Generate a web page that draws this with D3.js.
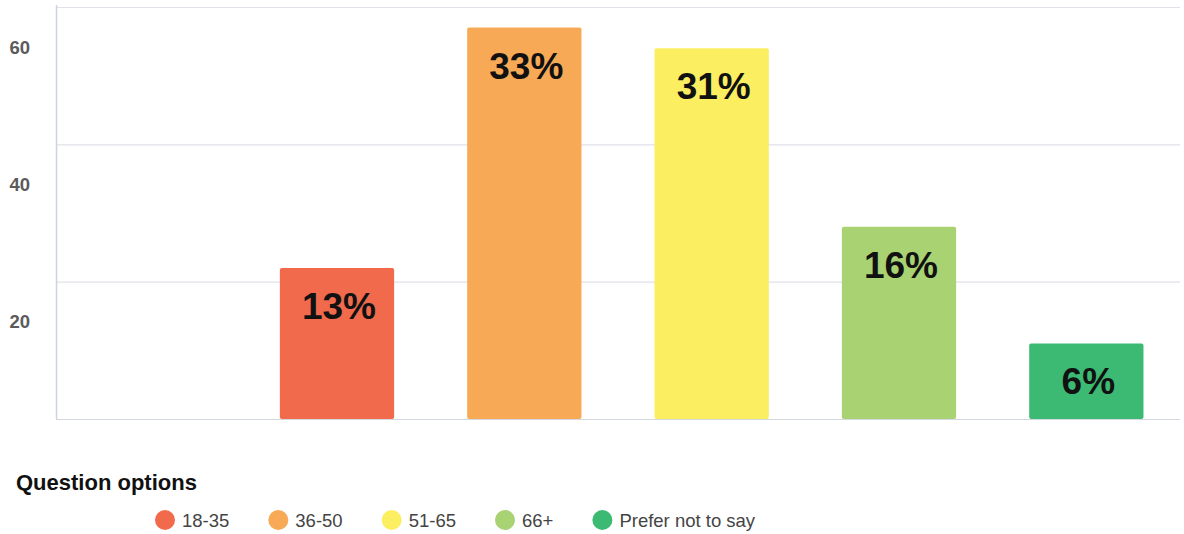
<!DOCTYPE html>
<html>
<head>
<meta charset="utf-8">
<script src="https://cdn.jsdelivr.net/npm/d3@7"></script>
<style>
  html, body { margin: 0; padding: 0; background: #ffffff; }
  svg { display: block; font-family: "Liberation Sans", Arial, Helvetica, sans-serif; }
</style>
</head>
<body>
<svg id="chart" width="1184" height="534"></svg>
<script>
// Age groups (the first slot has no responses)
const categories = ["Under 18", "18-35", "36-50", "51-65", "66+", "Prefer not to say"];
// Number of respondents per age group
const counts = [0, 22, 57, 54, 28, 11];
// Bar fill per age group
const colors = ["#cccccc", "#f06a4b", "#f7a955", "#fbee61", "#a9d272", "#3cba74"];
// Entries shown in the legend
const legendItems = ["18-35", "36-50", "51-65", "66+", "Prefer not to say"];
// Y axis
const yTicks = [20, 40, 60];
const yGrid = [0, 20, 40, 60];
const legendTitle = "Question options";

const svg = d3.select("#chart");
const plot = { left: 56, right: 1180, top: 7, bottom: 419 };

const x = d3.scaleBand()
  .domain(categories)
  .range([plot.left, plot.right])
  .paddingInner(0.39)
  .paddingOuter(0.195);

const y = d3.scaleLinear()
  .domain([0, 60])
  .range([plot.bottom, plot.top]);

const color = d3.scaleOrdinal().domain(categories).range(colors);
const total = d3.sum(counts);
const data = categories.map((c, i) => ({ cat: c, value: counts[i] }));

// Horizontal grid lines
svg.append("g")
  .selectAll("line")
  .data(yGrid)
  .join("line")
  .attr("x1", plot.left)
  .attr("x2", plot.right)
  .attr("y1", d => y(d) + 0.5)
  .attr("y2", d => y(d) + 0.5)
  .attr("stroke", d => d === 0 ? "#d3d7de" : "#dfe2e8")
  .attr("stroke-width", 1.2);

// Left axis with labels sitting beneath their grid line
const yAxis = d3.axisLeft(y).tickValues(yTicks).tickSize(0).tickPadding(26);
const gy = svg.append("g")
  .attr("transform", `translate(${plot.left},0)`)
  .call(yAxis);
gy.select(".domain")
  .attr("stroke", "#cdd3dd")
  .attr("stroke-width", 1.5)
  .attr("d", `M0.5,${plot.top - 2}V${plot.bottom}`);
gy.selectAll("text")
  .attr("fill", "#5b5b5b")
  .attr("font-size", 18.5)
  .attr("font-weight", "bold")
  .attr("dy", 46)
  .attr("dominant-baseline", "auto")
  .attr("font-family", "'Liberation Sans', Arial, sans-serif");

// Bars
svg.append("g")
  .selectAll("rect")
  .data(data.filter(d => d.value > 0))
  .join("rect")
  .attr("x", d => x(d.cat))
  .attr("width", x.bandwidth())
  .attr("y", d => y(d.value))
  .attr("height", d => y(0) - y(d.value))
  .attr("rx", 2)
  .attr("fill", d => color(d.cat));

// Share-of-total labels inside the bars
svg.append("g")
  .selectAll("text")
  .data(data.filter(d => d.value > 0))
  .join("text")
  .attr("x", d => x(d.cat) + x.bandwidth() / 2 + 2)
  .attr("y", d => y(d.value) + 51)
  .attr("text-anchor", "middle")
  .attr("font-size", 37)
  .attr("font-weight", "bold")
  .attr("fill", "#111111")
  .text(d => Math.round(d.value / total * 100) + "%");

// Legend
svg.append("text")
  .attr("x", 16)
  .attr("y", 490)
  .attr("font-size", 22)
  .attr("font-weight", "bold")
  .attr("fill", "#111111")
  .text(legendTitle);

const legend = svg.append("g");
let cx = 165;
legendItems.forEach(name => {
  legend.append("circle")
    .attr("cx", cx)
    .attr("cy", 520)
    .attr("r", 10)
    .attr("fill", color(name));
  const t = legend.append("text")
    .attr("x", cx + 17)
    .attr("y", 526.5)
    .attr("font-size", 18.5)
    .attr("fill", "#444444")
    .text(name);
  const w = t.node().getComputedTextLength();
  cx = cx + 17 + w + 49;
});
</script>
</body>
</html>
